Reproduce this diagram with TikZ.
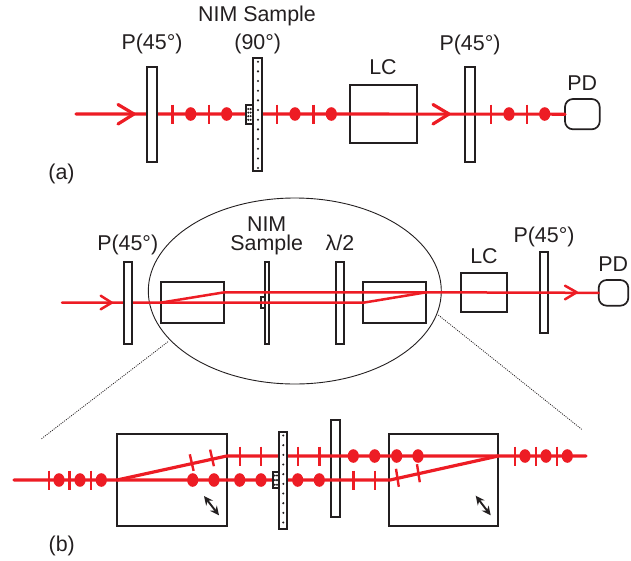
\documentclass[tikz,border=0pt]{standalone}
\usepackage{fontspec}
\setmainfont{Liberation Sans}
\usetikzlibrary{arrows.meta}
\definecolor{beamred}{HTML}{ED1C24}
\definecolor{inkblack}{HTML}{231F20}
\tikzset{
  optic/.style={draw=inkblack,line width=1.7pt,rectangle,inner sep=0pt,outer sep=0pt},
  whiteoptic/.style={optic,fill=white},
  pdbox/.style={optic,rounded corners=8pt},
  beam/.style={draw=beamred,line width=3.2pt,line cap=round,line join=round},
  thinbeam/.style={draw=beamred,line width=2.5pt,line cap=round,line join=round},
  tickmark/.style={draw=beamred,line width=2.4pt},
  label/.style={text=inkblack,anchor=base,inner sep=0pt,outer sep=0pt,font=\fontsize{21.4}{21.4}\selectfont},
  guide/.style={draw=inkblack,line width=0.8pt,dash pattern=on 1pt off 1.2pt},
  outline/.style={draw=inkblack,line width=0.9pt},
  polar/.style={draw=inkblack,line width=1.9pt,{Stealth[length=9pt,width=8.5pt]}-{Stealth[length=9pt,width=8.5pt]}}
}
% name, left, top, right, bottom, style
\newcommand{\placebox}[6]{\node[#6,minimum width={(#4-#2)*1pt},minimum height={(#5-#3)*1pt}] (#1) at ({(#2+#4)/2},{(#3+#5)/2}) {};}
\newcommand{\vticks}[2]{\foreach \tx in {#2} {\draw[tickmark] (\tx,#1-9.5) -- (\tx,#1+9.5);}}
\newcommand{\rdots}[2]{\foreach \tx in {#2} {\fill[beamred] (\tx,#1) ellipse (5.6 and 6.8);}}
\newcommand{\blackdots}[4]{\foreach \ti in {0,...,#4} {\fill[inkblack] (#1,#2+\ti*#3) circle (1.15);}}
\begin{document}
\begin{tikzpicture}[x=1pt,y=-1pt]
\useasboundingbox (0,0) rectangle (631,560);
% ---------- panel (a)
\placebox{alc}{350}{85}{416.7}{143.3}{optic}
\placebox{apb}{465.3}{66.7}{475}{162}{optic}
\placebox{apd}{565}{99}{599.7}{129.3}{pdbox}
\coordinate (astart) at (76,114);
\draw[beam] (astart) -- (apd.west);
\draw[beam] (118,104.5) -- (134,114) -- (118,124);
\draw[beam] (433,104.5) -- (449,114) -- (433,124);
\placebox{apa}{147.3}{66.7}{157}{162}{whiteoptic}
\placebox{anim}{252.7}{57.7}{262.3}{170.7}{whiteoptic}
\placebox{anims}{245.7}{104.7}{252.7}{124}{whiteoptic}
\blackdots{258}{61.7}{9.67}{11}
\blackdots{248.3}{109}{3.6}{3}
\blackdots{250.6}{109}{3.6}{3}
\vticks{114}{172.3,208.7,277,313.3,491,527}
\rdots{114}{190.7,226.7,295,331.3,509,544.7}
\node[label] (ta1) at (152,49) {P(45°)};
\node[label] (ta2) at (257,21.7) {NIM Sample};
\node[label] (ta3) at (257.7,49) {(90°)};
\node[label] (ta4) at (383,74.3) {LC};
\node[label] (ta5) at (470,50) {P(45°)};
\node[label] (ta6) at (582.3,90) {PD};
\node[label] (ta7) at (61.5,179) {(a)};
% ---------- panel (b), top row
\coordinate (ellc) at (294.8,291);
\draw[outline] (ellc) ellipse (146.5 and 93);
\placebox{bbo}{160.7}{282.3}{224.3}{323}{optic}
\placebox{bnim}{265}{262}{269.3}{343.7}{optic}
\placebox{bnims}{260.7}{297.3}{265}{308}{optic}
\placebox{bhw}{335.7}{262.3}{344}{343.7}{optic}
\placebox{bbt}{363.3}{282.3}{426.3}{323}{optic}
\placebox{blc}{461}{272.7}{507}{312}{optic}
\placebox{bpb}{540}{252.3}{548.3}{333.3}{optic}
\placebox{bpd}{598.7}{280}{628.3}{305.7}{pdbox}
\coordinate (bstart) at (62,302.7);
\coordinate (bup) at (224.3,292.3);
\coordinate (bdown) at (363.3,302.7);
\coordinate (bjoin) at (426.3,292.3);
\draw[thinbeam] (bstart) -- (bdown) -- (bjoin) -- (bpd.west);
\draw[thinbeam] (bbo.west) -- (bup) -- (bjoin);
\draw[thinbeam] (100.7,295.7) -- (111.7,302.7) -- (100.7,309.3);
\draw[thinbeam] (565,285.7) -- (576.7,292.3) -- (565,299.3);
\placebox{bpa}{123.7}{262}{132}{343.7}{whiteoptic}
\node[label] (tb1) at (127.7,250.7) {P(45°)};
\node[label] (tb2) at (266.7,231.7) {NIM};
\node[label] (tb3) at (266.7,250.7) {Sample};
\node[label] (tb4) at (340,250.7) {λ/2};
\node[label] (tb5) at (484,263.3) {LC};
\node[label] (tb6) at (544,242.7) {P(45°)};
\node[label] (tb7) at (613.3,271) {PD};
% ---------- guide lines
\coordinate (gla) at (168,341.7);
\coordinate (glb) at (40.7,439.3);
\coordinate (gra) at (438.3,315);
\coordinate (grb) at (581.7,429.3);
\draw[guide] (gla) -- (glb);
\draw[guide] (gra) -- (grb);
% ---------- panel (b), enlarged row
\placebox{cbo}{117}{434}{226.7}{526}{optic}
\placebox{cbt}{389}{434}{498.3}{526}{optic}
\placebox{chw}{331.3}{419.7}{339.7}{516.7}{optic}
\coordinate (cstart) at (14,480);
\coordinate (cup) at (226.7,456);
\coordinate (cdown) at (390,480);
\coordinate (cjoin) at (498.3,456);
\coordinate (cend) at (586,456);
\draw[beam] (cstart) -- (cdown) -- (cjoin) -- (cend);
\draw[beam] (cbo.west) -- (cup) -- (cjoin);
\placebox{cnim}{278.7}{431.7}{287}{528.7}{whiteoptic,line width=2.1pt}
\placebox{cnims}{272.7}{472}{278.7}{488.3}{whiteoptic}
\blackdots{283.3}{435.5}{9.67}{9}
\blackdots{274.8}{475.5}{4.6}{2}
\blackdots{277}{475.5}{4.6}{2}
\vticks{480}{48.7,69.3,90.7,353.3,374.7}
\vticks{456}{240,261,297.7,319.3,514.7,535.7,556.7}
\rdots{480}{59,80,101.3,192.7,214,239.7,261,297.7,319.3}
\rdots{456}{353.3,374.7,396.7,418,525,546,567.3}
\draw[tickmark] (189.8,454.3) -- (193.6,470.9);
\draw[tickmark] (210.1,449.6) -- (213.9,466.2);
\draw[tickmark] (396,468.8) -- (398.8,486.8);
\draw[tickmark] (417,464.2) -- (419.8,482.2);
\coordinate (pola) at (204,496);
\coordinate (polb) at (219,515.3);
\coordinate (polc) at (475.7,495.7);
\coordinate (pold) at (490.7,515.3);
\draw[polar] (pola) -- (polb);
\draw[polar] (polc) -- (pold);
\node[label] (tc1) at (61.7,551.7) {(b)};
\end{tikzpicture}
\end{document}
